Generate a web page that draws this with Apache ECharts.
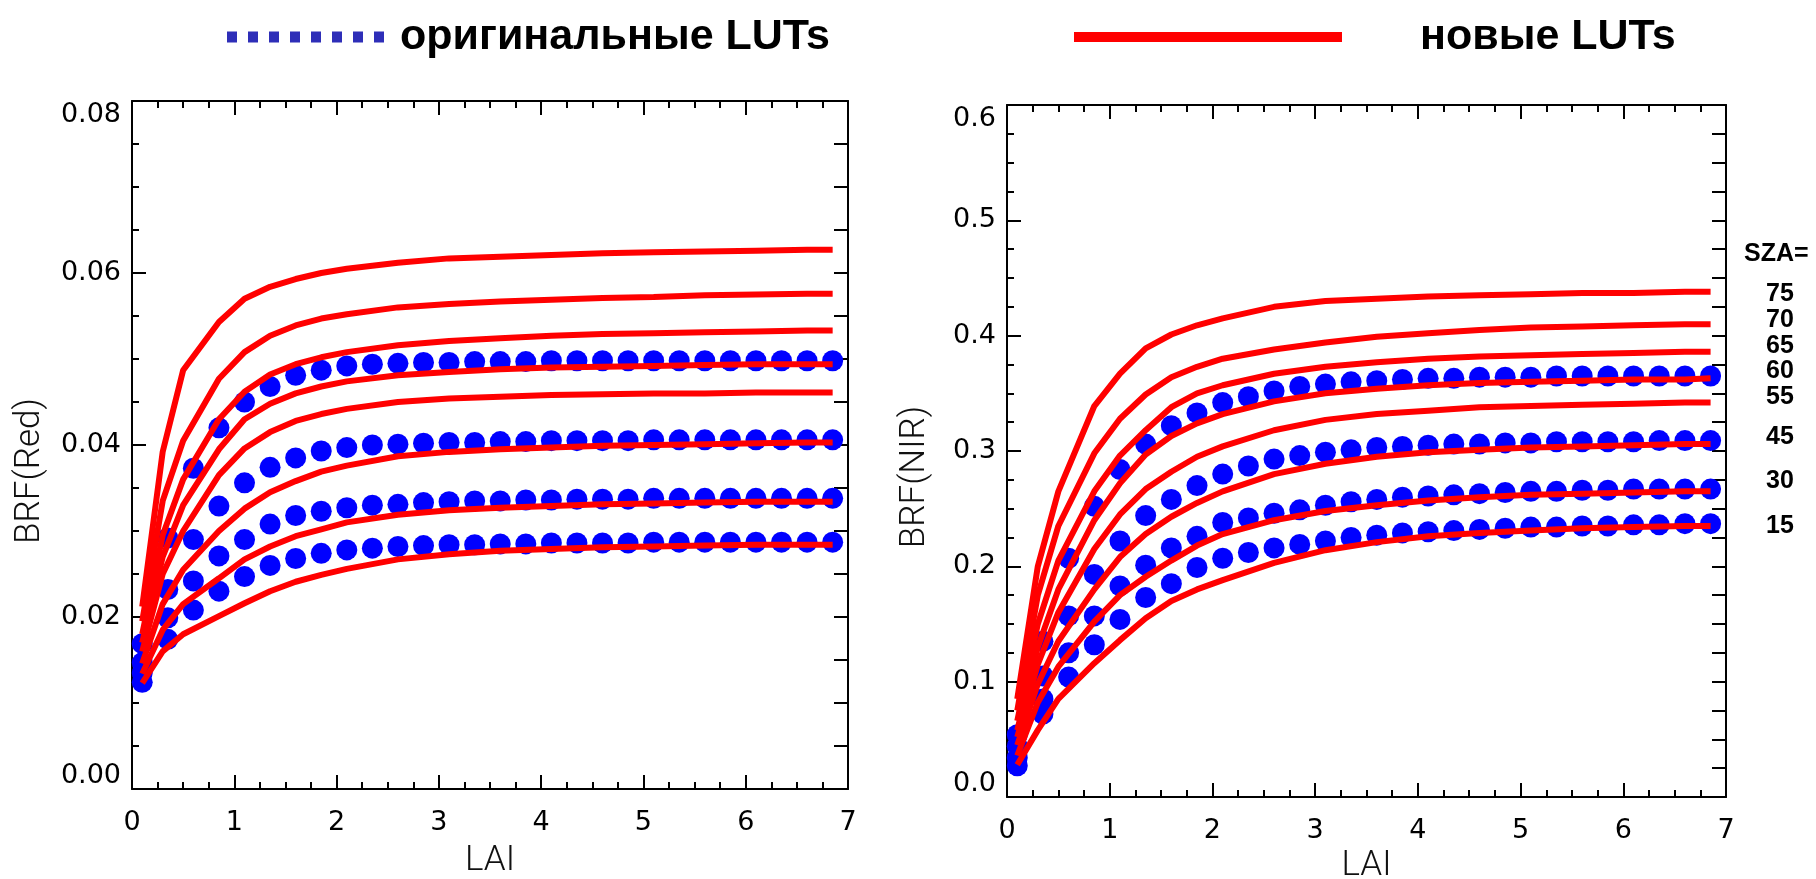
<!DOCTYPE html>
<html>
<head>
<meta charset="utf-8">
<script src="https://cdn.jsdelivr.net/npm/echarts@6/dist/echarts.min.js"></script>
<style>
  html, body { margin: 0; padding: 0; background: #fff; }
  #chart { width: 1816px; height: 879px; }
</style>
</head>
<body>
<div id="chart"></div>
<script>
// LAI grid of the original LUT points and of the new LUT curves
var laiOrig = [0.1, 0.35, 0.6, 0.85, 1.1, 1.35, 1.6, 1.85, 2.1, 2.35, 2.6, 2.85, 3.1, 3.35,
  3.6, 3.85, 4.1, 4.35, 4.6, 4.85, 5.1, 5.35, 5.6, 5.85, 6.1, 6.35, 6.6, 6.85];
var laiNew = [0.1, 0.3, 0.5, 0.85, 1.1, 1.35, 1.6, 1.85, 2.1, 2.6, 3.1, 3.6, 4.1, 4.6, 5.1, 5.6, 6.1, 6.6, 6.85];

var szaOrig = [60, 45, 30, 15];
var szaNew = [75, 70, 65, 60, 55, 45, 30, 15];

// BRF(Red), original LUTs (one row per szaOrig)
var redOrig = [
  [0.0169, 0.0292, 0.0373, 0.0420, 0.0450, 0.0468, 0.0481, 0.0487, 0.0492, 0.0494, 0.0495, 0.0496, 0.0496, 0.0497,
   0.0497, 0.0497, 0.0498, 0.0498, 0.0498, 0.0498, 0.0498, 0.0498, 0.0498, 0.0498, 0.0498, 0.0498, 0.0498, 0.0498],
  [0.0147, 0.0232, 0.0290, 0.0329, 0.0356, 0.0374, 0.0385, 0.0393, 0.0397, 0.0400, 0.0401, 0.0402, 0.0403, 0.0403,
   0.0404, 0.0404, 0.0405, 0.0405, 0.0405, 0.0405, 0.0406, 0.0406, 0.0406, 0.0406, 0.0406, 0.0406, 0.0406, 0.0406],
  [0.0135, 0.0199, 0.0242, 0.0271, 0.0290, 0.0308, 0.0318, 0.0323, 0.0327, 0.0330, 0.0331, 0.0333, 0.0334, 0.0335,
   0.0335, 0.0336, 0.0336, 0.0337, 0.0337, 0.0337, 0.0338, 0.0338, 0.0338, 0.0338, 0.0338, 0.0338, 0.0338, 0.0338],
  [0.0124, 0.0174, 0.0208, 0.0230, 0.0247, 0.0260, 0.0268, 0.0274, 0.0278, 0.0280, 0.0282, 0.0283, 0.0284, 0.0284,
   0.0285, 0.0285, 0.0286, 0.0286, 0.0286, 0.0286, 0.0287, 0.0287, 0.0287, 0.0287, 0.0287, 0.0287, 0.0287, 0.0287]
];

// BRF(Red), new LUTs (one row per szaNew)
var redNew = [
  [0.0212, 0.0392, 0.0487, 0.0543, 0.0570, 0.0584, 0.0593, 0.0600, 0.0605, 0.0612, 0.0617, 0.0619, 0.0621, 0.0623, 0.0624, 0.0625, 0.0626, 0.0627, 0.0627],
  [0.0195, 0.0335, 0.0405, 0.0477, 0.0508, 0.0527, 0.0539, 0.0547, 0.0552, 0.0560, 0.0564, 0.0567, 0.0569, 0.0571, 0.0572, 0.0574, 0.0575, 0.0576, 0.0576],
  [0.0180, 0.0295, 0.0360, 0.0430, 0.0462, 0.0482, 0.0494, 0.0502, 0.0508, 0.0516, 0.0521, 0.0524, 0.0527, 0.0529, 0.0530, 0.0531, 0.0532, 0.0533, 0.0533],
  [0.0170, 0.0270, 0.0330, 0.0395, 0.0430, 0.0448, 0.0460, 0.0468, 0.0474, 0.0481, 0.0485, 0.0488, 0.0490, 0.0491, 0.0492, 0.0493, 0.0494, 0.0494, 0.0494],
  [0.0160, 0.0250, 0.0300, 0.0365, 0.0396, 0.0415, 0.0428, 0.0436, 0.0442, 0.0450, 0.0454, 0.0456, 0.0458, 0.0459, 0.0460, 0.0460, 0.0461, 0.0461, 0.0461],
  [0.0146, 0.0215, 0.0255, 0.0300, 0.0326, 0.0345, 0.0358, 0.0369, 0.0376, 0.0387, 0.0392, 0.0395, 0.0397, 0.0399, 0.0400, 0.0401, 0.0402, 0.0403, 0.0403],
  [0.0134, 0.0185, 0.0215, 0.0245, 0.0267, 0.0282, 0.0294, 0.0302, 0.0310, 0.0319, 0.0324, 0.0327, 0.0329, 0.0331, 0.0332, 0.0333, 0.0334, 0.0334, 0.0334],
  [0.0123, 0.0160, 0.0180, 0.0201, 0.0216, 0.0230, 0.0241, 0.0249, 0.0256, 0.0267, 0.0273, 0.0277, 0.0279, 0.0281, 0.0282, 0.0283, 0.0284, 0.0284, 0.0284]
];

// BRF(NIR), original LUTs
var nirOrig = [
  [0.054, 0.135, 0.207, 0.252, 0.284, 0.306, 0.322, 0.333, 0.342, 0.347, 0.352, 0.356, 0.358, 0.360,
   0.361, 0.362, 0.363, 0.363, 0.364, 0.364, 0.364, 0.365, 0.365, 0.365, 0.365, 0.365, 0.365, 0.365],
  [0.044, 0.105, 0.157, 0.193, 0.222, 0.244, 0.258, 0.270, 0.280, 0.287, 0.293, 0.296, 0.299, 0.301,
   0.303, 0.304, 0.305, 0.306, 0.306, 0.307, 0.307, 0.308, 0.308, 0.308, 0.308, 0.309, 0.309, 0.309],
  [0.034, 0.085, 0.125, 0.157, 0.183, 0.201, 0.216, 0.226, 0.238, 0.242, 0.246, 0.249, 0.253, 0.256,
   0.258, 0.260, 0.261, 0.262, 0.263, 0.264, 0.265, 0.265, 0.266, 0.266, 0.267, 0.267, 0.267, 0.267],
  [0.027, 0.072, 0.104, 0.132, 0.154, 0.173, 0.185, 0.199, 0.207, 0.212, 0.216, 0.219, 0.222, 0.225,
   0.227, 0.229, 0.230, 0.231, 0.232, 0.233, 0.234, 0.234, 0.235, 0.235, 0.236, 0.236, 0.237, 0.237]
];

// BRF(NIR), new LUTs
var nirNew = [
  [0.085, 0.200, 0.265, 0.339, 0.367, 0.389, 0.401, 0.409, 0.415, 0.425, 0.430, 0.432, 0.434, 0.435, 0.436, 0.437, 0.437, 0.438, 0.438],
  [0.075, 0.175, 0.235, 0.298, 0.328, 0.349, 0.364, 0.373, 0.380, 0.388, 0.394, 0.399, 0.402, 0.405, 0.407, 0.408, 0.409, 0.410, 0.410],
  [0.066, 0.150, 0.205, 0.265, 0.296, 0.318, 0.338, 0.350, 0.357, 0.367, 0.373, 0.377, 0.380, 0.382, 0.383, 0.384, 0.385, 0.386, 0.386],
  [0.058, 0.130, 0.180, 0.240, 0.272, 0.297, 0.313, 0.324, 0.332, 0.343, 0.350, 0.354, 0.357, 0.359, 0.360, 0.361, 0.362, 0.362, 0.363],
  [0.052, 0.115, 0.160, 0.215, 0.245, 0.267, 0.282, 0.295, 0.304, 0.318, 0.327, 0.332, 0.335, 0.338, 0.339, 0.340, 0.341, 0.342, 0.342],
  [0.045, 0.098, 0.135, 0.180, 0.208, 0.228, 0.243, 0.255, 0.265, 0.280, 0.289, 0.295, 0.299, 0.301, 0.303, 0.304, 0.305, 0.306, 0.306],
  [0.036, 0.082, 0.113, 0.152, 0.175, 0.191, 0.205, 0.218, 0.228, 0.240, 0.248, 0.253, 0.257, 0.260, 0.262, 0.263, 0.264, 0.265, 0.265],
  [0.028, 0.058, 0.085, 0.116, 0.136, 0.155, 0.170, 0.180, 0.188, 0.203, 0.214, 0.221, 0.226, 0.229, 0.231, 0.233, 0.234, 0.235, 0.235]
];

var nameOrig = 'оригинальные LUTs';
var nameNew = 'новые LUTs';

var myChart = echarts.init(document.getElementById('chart'));

function pairs(xs, ys) {
  var out = [];
  for (var i = 0; i < xs.length; i++) {
    out.push([xs[i], ys[i]]);
  }
  return out;
}

var tickFont = { color: '#000', fontSize: 27, fontFamily: 'DejaVu Sans' };
var tickLine = { color: '#000', width: 2 };
var axisLine = { show: true, onZero: false, lineStyle: { color: '#000', width: 2 } };

function titleFont(shift) {
  // shift moves a rotated title down along the axis
  return { color: '#111', fontSize: 35, fontFamily: 'Roboto', fontWeight: 300, padding: [0, shift, 0, 0] };
}

function xAxes(grid, gap) {
  return [
    {
      gridIndex: grid, type: 'value', min: 0, max: 7, interval: 1, position: 'bottom',
      name: 'LAI', nameLocation: 'middle', nameGap: gap, nameTextStyle: titleFont(0),
      axisLine: axisLine,
      axisTick: { inside: true, length: 14, lineStyle: tickLine },
      minorTick: { show: true, splitNumber: 4, length: 7, lineStyle: tickLine },
      axisLabel: Object.assign({ margin: 20 }, tickFont),
      splitLine: { show: false }
    },
    {
      gridIndex: grid, type: 'value', min: 0, max: 7, interval: 1, position: 'top',
      axisLine: axisLine,
      axisTick: { inside: true, length: 14, lineStyle: tickLine },
      minorTick: { show: true, splitNumber: 4, length: 7, lineStyle: tickLine },
      axisLabel: { show: false },
      splitLine: { show: false }
    }
  ];
}

function yAxes(grid, max, step, minorStep, digits, name, gap) {
  return [
    {
      gridIndex: grid, type: 'value', min: 0, max: max, interval: step, position: 'left',
      name: name, nameLocation: 'middle', nameGap: gap, nameRotate: 90, nameTextStyle: titleFont(52),
      axisLine: axisLine,
      axisTick: { inside: true, length: 14, lineStyle: tickLine },
      minorTick: { show: true, splitNumber: 4, length: 7, lineStyle: tickLine },
      axisLabel: Object.assign({
        margin: 11,
        verticalAlignMinLabel: 'bottom',
        verticalAlignMaxLabel: 'top',
        formatter: function (v) { return v.toFixed(digits); }
      }, tickFont),
      splitLine: { show: false }
    },
    {
      gridIndex: grid, type: 'value', min: 0, max: max, interval: minorStep, position: 'right',
      axisLine: axisLine,
      axisTick: { inside: true, length: 14, lineStyle: tickLine },
      axisLabel: { show: false },
      splitLine: { show: false }
    }
  ];
}

var series = [];
function addPanel(grid, orig, fresh) {
  for (var i = 0; i < orig.length; i++) {
    series.push({
      type: 'scatter', name: nameOrig, xAxisIndex: grid * 2, yAxisIndex: grid * 2,
      symbol: 'circle', symbolSize: 21, z: 2,
      itemStyle: { color: '#0000ff', opacity: 1 },
      data: pairs(laiOrig, orig[i])
    });
  }
  for (var j = 0; j < fresh.length; j++) {
    series.push({
      type: 'line', name: nameNew, xAxisIndex: grid * 2, yAxisIndex: grid * 2,
      showSymbol: false, z: 3,
      lineStyle: { color: '#ff0000', width: 6 },
      itemStyle: { color: '#ff0000' },
      data: pairs(laiNew, fresh[j])
    });
  }
}
addPanel(0, redOrig, redNew);
addPanel(1, nirOrig, nirNew);

// SZA labels beside the right panel
var szaTop = [295, 321, 347, 372, 398, 438, 482, 527];
var graphics = [{
  type: 'text', left: 1744, top: 242,
  style: { text: 'SZA=', fill: '#000', font: 'bold 25px "Liberation Sans", Arial' }
}];
for (var k = 0; k < szaNew.length; k++) {
  graphics.push({
    type: 'text', left: 1766, top: szaTop[k] - 13,
    style: { text: String(szaNew[k]), fill: '#000', font: 'bold 25px "Liberation Sans", Arial' }
  });
}

var legendFont = { color: '#000', fontSize: 43, fontWeight: 'bold', fontFamily: 'Liberation Sans', lineHeight: 46 };

var option = {
  backgroundColor: '#fff',
  animation: false,
  grid: [
    { left: 132, top: 101, width: 716, height: 688, outerBoundsMode: 'none' },
    { left: 1007, top: 105, width: 719, height: 692, outerBoundsMode: 'none' }
  ],
  legend: [
    {
      data: [nameOrig], left: 222, top: 9, selectedMode: false,
      icon: 'path://M0 0h10v11H0z M21 0h10v11H21z M42 0h10v11H42z M63 0h10v11H63z M84 0h10v11H84z M105 0h10v11H105z M126 0h10v11H126z M147 0h10v11H147z',
      itemWidth: 157, itemHeight: 11,
      itemStyle: { color: '#2e2eb8', opacity: 1 },
      textStyle: Object.assign({ padding: [0, 0, 0, 11] }, legendFont)
    },
    {
      data: [nameNew], left: 1069, top: 9, selectedMode: false,
      icon: 'rect', itemWidth: 268, itemHeight: 10,
      itemStyle: { color: '#ff0000' },
      textStyle: Object.assign({ padding: [0, 0, 0, 73] }, legendFont)
    }
  ],
  xAxis: xAxes(0, 55).concat(xAxes(1, 48)),
  yAxis: yAxes(0, 0.08, 0.02, 0.005, 2, 'BRF(Red)', 84).concat(yAxes(1, 0.6, 0.1, 0.025, 1, 'BRF(NIR)', 74)),
  series: series,
  graphic: graphics
};

myChart.setOption(option);
</script>
</body>
</html>
